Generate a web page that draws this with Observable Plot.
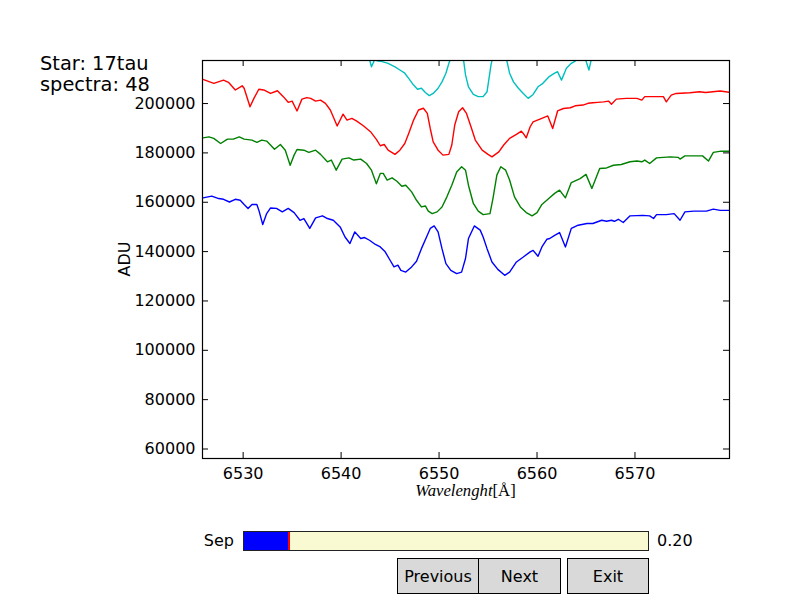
<!DOCTYPE html>
<html>
<head>
<meta charset="utf-8">
<script src="https://cdn.jsdelivr.net/npm/d3@7"></script>
<script src="https://cdn.jsdelivr.net/npm/@observablehq/plot@0.6"></script>
<style>
  html, body { margin: 0; padding: 0; background: white; }
  body { font-family: "DejaVu Sans", sans-serif; }
  #fig { position: relative; width: 812px; height: 612px; }
  #chart { position: absolute; left: 0; top: 0; }
  .w { position: absolute; font-size: 16px; line-height: 20px; color: black; }
  .btn { position: absolute; box-sizing: border-box; background: #d9d9d9; border: 1px solid black;
         font-size: 16px; display: flex; align-items: center; justify-content: center; }
</style>
</head>
<body>
<div id="fig">
  <div id="chart"></div>
  <div class="w" style="left:160px;top:531px;width:74px;text-align:right;">Sep</div>
  <div style="position:absolute;left:243px;top:531px;width:406px;height:20px;box-sizing:border-box;border:1px solid #222;background:#fafad2;">
    <div style="position:absolute;left:0;top:0;width:45px;height:18px;background:#0000ff;"></div>
    <div style="position:absolute;left:44px;top:0;width:2px;height:18px;background:#ff0000;"></div>
  </div>
  <div class="w" style="left:657px;top:531px;">0.20</div>
  <div class="btn" style="left:397px;top:558px;width:82px;height:36px;">Previous</div>
  <div class="btn" style="left:478px;top:558px;width:83px;height:36px;">Next</div>
  <div class="btn" style="left:567px;top:558px;width:82px;height:36px;">Exit</div>
</div>
<script>
// ---- tick values ----
const xTicks = [6530, 6540, 6550, 6560, 6570];
const yTicks = [60000, 80000, 100000, 120000, 140000, 160000, 180000, 200000];

// ---- blue spectrum ----
const blueWl = [6525.9,6526.8,6527.5,6528.0,6528.6,6529.2,6529.7,6530.1,6530.5,6530.9,6531.4,6531.6,6532.0,6532.4,6532.8,6533.4,6534.0,6534.6,6535.2,6535.8,6536.2,6536.8,6537.4,6538.1,6538.6,6539.2,6539.9,6540.4,6540.9,6541.4,6542.0,6542.4,6542.9,6543.5,6544.0,6544.5,6545.0,6545.4,6545.8,6546.1,6546.6,6547.2,6547.7,6548.2,6548.8,6549.1,6549.5,6549.9,6550.3,6550.7,6551.2,6551.8,6552.3,6552.7,6553.0,6553.6,6554.2,6554.5,6554.9,6555.4,6556.0,6556.7,6557.2,6557.9,6558.6,6559.3,6559.6,6560.1,6560.5,6561.0,6561.3,6561.8,6562.3,6562.9,6563.5,6564.2,6565.1,6565.7,6566.6,6567.1,6567.6,6567.9,6568.3,6568.8,6569.5,6570.8,6571.5,6571.9,6572.2,6573.2,6574.0,6574.6,6575.1,6576.0,6577.3,6578.0,6578.7,6579.7];
const blueAdu = [161800,162500,161500,161200,160100,161200,160800,159100,157500,159100,159100,156800,151000,155400,157700,157500,156100,157500,155800,152700,153400,149400,153700,154500,153400,152700,150000,145900,143300,148000,145300,145700,144600,142900,141900,139900,136500,133800,134500,132400,131700,133800,136100,141200,146600,149400,150400,148000,141200,135100,132400,131100,131700,137200,145300,150400,148700,145900,141200,135800,132800,130400,131700,135800,137800,139900,140500,138100,141900,145000,145300,146600,147700,141900,149400,150700,151400,151400,152700,152300,152700,152300,153100,151800,154500,154700,154500,153400,155000,155000,155400,152700,156100,156400,156400,157200,156700,156700];

// ---- green spectrum ----
const greenWl = [6525.9,6526.5,6527.0,6527.7,6528.4,6529.0,6529.6,6530.1,6530.9,6531.4,6531.9,6532.4,6533.2,6533.8,6534.3,6534.8,6535.2,6535.5,6536.2,6536.7,6537.4,6537.9,6538.6,6539.0,6539.5,6540.1,6540.8,6541.3,6542.0,6542.6,6543.1,6543.6,6544.0,6544.3,6544.7,6545.2,6545.7,6546.2,6546.6,6547.2,6547.7,6548.2,6548.6,6548.9,6549.3,6549.8,6550.3,6550.8,6551.3,6551.8,6552.3,6552.7,6553.0,6553.5,6554.0,6554.5,6555.2,6555.5,6555.9,6556.3,6556.8,6557.2,6557.7,6558.3,6558.9,6559.5,6560.0,6560.5,6561.2,6561.8,6562.3,6562.9,6563.5,6564.4,6565.0,6565.6,6566.4,6567.1,6567.8,6568.6,6569.5,6570.2,6570.7,6571.0,6571.5,6572.2,6573.6,6574.4,6574.6,6575.1,6576.3,6576.9,6577.5,6578.0,6578.8,6579.6];
const greenAdu = [186100,186500,185900,183800,185600,185600,186500,185600,185200,184300,185200,184800,181500,183400,181100,175000,179100,181400,181100,180200,181100,179400,176400,177100,173000,177500,178000,177100,177500,175700,173000,167500,171700,171700,169000,169900,168500,166500,166900,164200,160800,158100,158500,156400,155400,156100,158100,162200,166900,172300,174400,173000,166900,159500,156400,155000,155400,161500,171000,174400,173000,169000,162200,158100,155800,154500,155800,159100,161500,163600,164900,161800,168000,169600,171300,165600,173700,173900,175000,175300,176400,176700,176400,177100,175700,178000,178400,178200,177500,178800,178800,178800,176700,180200,180700,180700];

// ---- red spectrum ----
const redWl = [6525.9,6527.0,6528.0,6528.5,6529.2,6529.9,6530.1,6530.7,6531.1,6531.6,6532.1,6532.8,6533.5,6534.1,6534.6,6535.0,6535.5,6536.0,6536.5,6536.9,6537.4,6537.9,6538.4,6538.9,6539.6,6540.2,6540.6,6541.1,6541.6,6542.3,6543.0,6543.6,6544.0,6544.4,6544.8,6545.5,6546.0,6546.5,6546.9,6547.4,6547.9,6548.4,6548.8,6549.1,6549.4,6549.9,6550.4,6551.0,6551.3,6551.6,6552.0,6552.4,6552.8,6553.2,6553.7,6554.4,6555.0,6555.4,6556.1,6556.6,6557.2,6557.9,6558.4,6558.6,6558.9,6559.3,6559.6,6560.3,6561.1,6561.6,6562.1,6562.7,6563.4,6563.9,6564.7,6565.2,6565.7,6566.2,6566.8,6567.3,6567.6,6568.1,6569.1,6570.2,6570.7,6571.0,6572.2,6572.9,6573.2,6573.7,6574.2,6575.6,6576.6,6577.2,6578.7,6579.7];
const redAdu = [209800,208200,209500,208600,205500,207200,206200,198700,202100,205800,205500,204100,205200,202800,200500,201000,197000,201800,202400,202100,201000,201400,200100,197400,190900,195700,193300,194000,192900,190900,188600,185500,182900,183400,181100,179400,181100,183800,187900,193300,197400,198100,196000,189900,184500,181100,179100,179400,183200,191300,196700,198300,196000,191300,185200,181100,179400,178400,180400,183200,185900,187500,188800,187900,186100,190600,192600,193700,195000,189900,197000,198000,198300,199100,199400,200100,200300,200500,200700,201000,199700,201800,202100,202100,201400,202800,202800,202800,200700,203400,204100,204400,204800,204500,205100,204500];

// ---- cyan spectrum (partly above the plot top) ----
const cyanWl = [6526.0,6530.0,6535.0,6540.0,6542.5,6542.9,6543.1,6543.4,6543.8,6544.2,6544.8,6545.5,6546.0,6546.5,6546.9,6547.4,6547.8,6548.2,6548.6,6549.0,6549.4,6549.9,6550.3,6550.7,6551.0,6551.3,6551.8,6552.2,6552.5,6552.7,6553.0,6553.5,6554.0,6554.5,6554.9,6555.1,6555.3,6555.5,6556.0,6556.5,6556.9,6557.2,6557.6,6558.1,6558.6,6559.1,6559.6,6560.1,6560.6,6561.2,6561.8,6562.1,6562.5,6563.0,6563.5,6563.9,6564.3,6564.9,6565.3,6565.6,6566.5,6570.0,6575.0,6579.6];
const cyanAdu = [234000,231000,227500,222500,219500,217800,214900,217600,217200,217000,216300,214900,213600,212300,210200,207500,205800,206200,204500,203200,204100,206200,208800,212300,216300,219500,222500,220500,217700,211600,206800,203700,202800,202800,204800,210200,215600,219500,222500,221000,217700,212300,208800,206200,204100,202100,203700,206800,208200,210800,212300,212900,209500,214300,216300,217200,219000,218500,213600,219000,221500,223500,226000,228500];

const series = [
  {wl: blueWl, adu: blueAdu, color: "#0000ff"},
  {wl: greenWl, adu: greenAdu, color: "#008000"},
  {wl: redWl, adu: redAdu, color: "#ff0000"},
  {wl: cyanWl, adu: cyanAdu, color: "#00bfbf"}
];

const W = 800, H = 510, mL = 202, mR = 71, mT = 60, mB = 52;
const innerW = W - mL - mR, innerH = H - mT - mB;
const fmt = d => String(d);

const lineMarks = series.map(s =>
  Plot.line(s.wl.map((w, i) => ({wl: w, adu: s.adu[i]})),
    {x: "wl", y: "adu", stroke: s.color, strokeWidth: 1.4, clip: true}));

const chart = Plot.plot({
  width: W, height: H,
  marginLeft: mL, marginRight: mR, marginTop: mT, marginBottom: mB,
  style: {fontFamily: "DejaVu Sans", fontSize: "16px", background: "white", overflow: "visible", color: "black"},
  x: {domain: [6525.85, 6579.65]},
  y: {domain: [56150, 217450]},
  marks: [
    ...lineMarks,
    Plot.axisX({ticks: xTicks, tickFormat: fmt, tickSize: 0, tickPadding: 9, label: null}),
    Plot.axisY({ticks: yTicks, tickFormat: fmt, tickSize: 0, tickPadding: 7, label: null}),
    Plot.tickX(xTicks, {x: d => d, insetTop: innerH - 6, stroke: "black"}),
    Plot.tickX(xTicks, {x: d => d, insetBottom: innerH - 6, stroke: "black"}),
    Plot.tickY(yTicks, {y: d => d, insetRight: innerW - 6, stroke: "black"}),
    Plot.tickY(yTicks, {y: d => d, insetLeft: innerW - 6, stroke: "black"}),
    Plot.frame({stroke: "black", strokeWidth: 1.2})
  ]
});
document.getElementById("chart").appendChild(chart);

const svg = d3.select(chart);
// title lines
svg.append("text").attr("x", 40).attr("y", 70).attr("text-anchor", "start").attr("font-size", "19.4px").attr("fill", "black").text("Star: 17tau");
svg.append("text").attr("x", 40).attr("y", 91).attr("text-anchor", "start").attr("font-size", "19.4px").attr("fill", "black").text("spectra: 48");
// y label
svg.append("text").attr("transform", `translate(129.5,${mT + innerH / 2}) rotate(-90)`)
  .attr("text-anchor", "middle").attr("font-size", "16px").attr("fill", "black").text("ADU");
// x label (math style)
const xl = svg.append("text").attr("x", mL + innerW / 2).attr("y", 496).attr("text-anchor", "middle")
  .attr("font-family", "Liberation Serif, DejaVu Serif, serif").attr("font-size", "16.7px").attr("fill", "black");
xl.append("tspan").attr("font-style", "italic").text("Wavelenght");
xl.append("tspan").text("[Å]");
</script>
</body>
</html>
